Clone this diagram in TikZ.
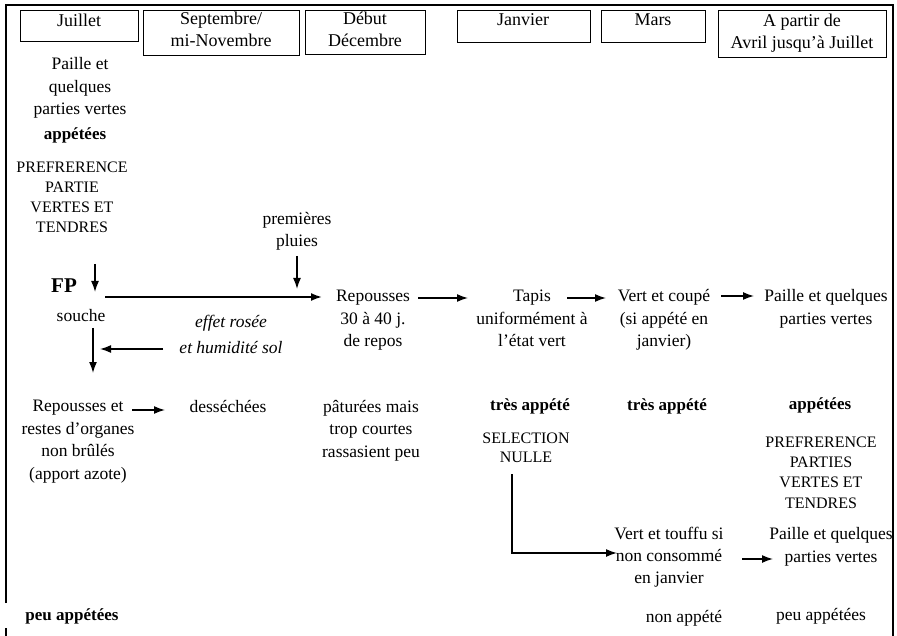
\documentclass[tikz,border=0pt]{standalone}
\usepackage{fontspec}
\setmainfont{Liberation Serif}
\usetikzlibrary{arrows.meta}
\begin{document}
\begin{tikzpicture}[x=1pt,y=-1pt,
  hbox/.style={draw, line width=1.2pt, inner sep=0pt, anchor=north west},
  htx/.style={align=center, inner sep=0pt, anchor=base, font=\fontsize{18}{22}\selectfont},
  tx/.style={align=center, inner sep=0pt, anchor=base, font=\fontsize{17.5}{22.5}\selectfont},
  bx/.style={tx, font=\fontsize{17}{22}\selectfont\bfseries},
  captx/.style={align=center, inner sep=0pt, anchor=base, font=\fontsize{16}{20.3}\selectfont},
  ittx/.style={tx, font=\fontsize{17.5}{25}\selectfont\itshape},
  arr/.style={line width=1.5pt, -{Latex[length=11pt,width=8pt]}},
  framel/.style={line width=1.4pt}]
\useasboundingbox (0,0) rectangle (897,636);
% frame
\coordinate (fa) at (6,603);
\coordinate (fb) at (6,5);
\coordinate (fc) at (893,5);
\coordinate (fd) at (893,636);
\coordinate (fe) at (6,628);
\coordinate (ff) at (6,636);
\draw[framel] (fa) -- (fb) -- (fc) -- (fd);
\draw[framel] (fe) -- (ff);
% header boxes
\node[hbox, minimum width=118pt, minimum height=31pt] (hjul) at (20,10) {};
\node[hbox, minimum width=156pt, minimum height=45pt] (hsep) at (143,10) {};
\node[hbox, minimum width=120pt, minimum height=44pt] (hdeb) at (305,10) {};
\node[hbox, minimum width=133pt, minimum height=32pt] (hjan) at (457,10) {};
\node[hbox, minimum width=104pt, minimum height=32pt] (hmar) at (601,10) {};
\node[hbox, minimum width=168pt, minimum height=47pt] (havr) at (718,10) {};
% (anchor=base of a multi-line node = baseline of its last line)
\node[htx] (tjul) at (79,27) {Juillet};
\node[htx] (tsep) at (221,47) {Septembre/\\mi-Novembre};
\node[htx] (tdeb) at (365,47) {Début\\Décembre};
\node[htx] (tjan) at (523,26) {Janvier};
\node[htx] (tmar) at (653,26) {Mars};
\node[htx] (tavr) at (802,49) {A partir de\\Avril jusqu'à Juillet};
% column 1
\node[tx] (c1a) at (80,115) {Paille et\\quelques\\parties vertes};
\node[bx] (c1b) at (75,140) {appétées};
\node[captx] (c1c) at (72,233) {PREFRERENCE\\PARTIE\\VERTES ET\\TENDRES};
\node[tx, font=\fontsize{21}{24}\selectfont\bfseries] (fp) at (64,293) {FP};
\node[tx] (souche) at (81,322) {souche};
% middle row
\node[tx] (prem) at (297,247) {premières\\pluies};
\node[tx] (rep) at (373,347) {Repousses\\30 à 40 j.\\de repos};
\node[tx] (tapis) at (532,347) {Tapis\\uniformément à\\l'état vert};
\node[tx] (vert) at (664,347) {Vert et coupé\\(si appété en\\janvier)};
\node[tx] (pai1) at (826,324.5) {Paille et quelques\\parties vertes};
\node[ittx] (effet) at (231,353) {effet rosée\\et humidité sol};
% lower rows
\node[tx] (rep2) at (78,479) {Repousses et\\restes d'organes\\non brûlés\\(apport azote)};
\node[tx] (dess) at (228,412) {desséchées};
\node[tx] (patu) at (371,457) {pâturées mais\\trop courtes\\rassasient peu};
\node[bx] (tres1) at (530,410) {très appété};
\node[captx, font=\fontsize{16}{19}\selectfont] (sel) at (526,462) {SELECTION\\NULLE};
\node[bx] (tres2) at (667,410) {très appété};
\node[bx] (app2) at (820,409) {appétées};
\node[captx] (pref2) at (821,508) {PREFRERENCE\\PARTIES\\VERTES ET\\TENDRES};
\node[tx, font=\fontsize{17.5}{22}\selectfont] (touf) at (669,583) {Vert et touffu si\\non consommé\\en janvier};
\node[tx, font=\fontsize{17.5}{23}\selectfont] (pai2) at (831,562) {Paille et quelques\\parties vertes};
\node[bx] (peu1) at (72,620) {peu appétées};
\node[tx] (nonapp) at (684,622) {non appété};
\node[tx] (peu2) at (821,620) {peu appétées};
% arrows
\coordinate (a1s) at (95,264); \coordinate (a1e) at (95,292);
\coordinate (a2s) at (105,297); \coordinate (a2e) at (322,297);
\coordinate (a3s) at (297,256); \coordinate (a3e) at (297,289);
\coordinate (a4s) at (418,298); \coordinate (a4e) at (468,298);
\coordinate (a5s) at (567,298); \coordinate (a5e) at (606,298);
\coordinate (a6s) at (721,296); \coordinate (a6e) at (754,296);
\coordinate (a7s) at (93,328); \coordinate (a7e) at (93,373);
\coordinate (a8s) at (163,349); \coordinate (a8e) at (100,349);
\coordinate (a9s) at (132,410); \coordinate (a9e) at (165,410);
\coordinate (a10s) at (512,474); \coordinate (a10e) at (617,553);
\coordinate (a11s) at (742,559); \coordinate (a11e) at (773,559);
\draw[arr] (a1s) -- (a1e);
\draw[arr, line width=1.8pt] (a2s) -- (a2e);
\draw[arr] (a3s) -- (a3e);
\draw[arr] (a4s) -- (a4e);
\draw[arr] (a5s) -- (a5e);
\draw[arr] (a6s) -- (a6e);
\draw[arr] (a7s) -- (a7e);
\draw[arr] (a8s) -- (a8e);
\draw[arr] (a9s) -- (a9e);
\draw[arr] (a10s) |- (a10e);
\draw[arr] (a11s) -- (a11e);
\end{tikzpicture}
\end{document}
